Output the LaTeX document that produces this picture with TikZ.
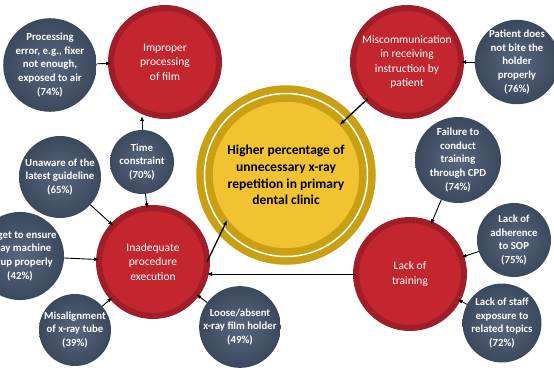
\documentclass[tikz,border=0pt]{standalone}
\usepackage{fontspec}
\setmainfont{Carlito}
\usepackage{xcolor}
\usetikzlibrary{arrows.meta}
\definecolor{causefill}{HTML}{C3262F}
\definecolor{causering}{HTML}{A11E28}
\definecolor{factorin}{HTML}{56677E}
\definecolor{factorout}{HTML}{3B495D}
\definecolor{effectfill}{HTML}{F1C232}
\definecolor{effectring}{HTML}{C9A012}
\tikzset{
  cause/.style={circle, draw=causering, fill=causefill, line width=6pt, minimum size=108pt, inner sep=0pt, outer sep=0pt, align=center, text=white, font=\fontsize{11.5}{14.5}\selectfont},
  factor/.style={circle, inner color=factorin, outer color=factorout, inner sep=0pt, outer sep=0pt, align=center, text=white, font=\fontsize{10.8}{13.6}\selectfont\bfseries},
  effect/.style={circle, draw=effectring, double=white, double distance=1.5pt, line width=7.5pt, fill=effectfill, minimum size=163pt, inner sep=0pt, outer sep=0pt, align=center, font=\fontsize{13.5}{16.8}\selectfont\bfseries},
  line/.style={-{Latex[length=5pt,width=4pt]}, line width=0.9pt},
  toeffect/.style={line, line width=1.3pt, shorten >=-8pt}
}

\begin{document}
\begin{tikzpicture}[x=1pt, y=-1pt]
    \useasboundingbox (0,0) rectangle (554,367);
    \clip (0,0) rectangle (554,367);
    % main effect
    \node[effect] (effect) at (286,175) {Higher percentage of\\unnecessary x-ray\\repetition in primary\\dental clinic};
    % causes
    \node[cause] (film) at (165,62) {Improper\\processing\\of film};
    \node[cause] (misc) at (407,62) {Miscommunication\\in receiving\\instruction by\\patient};
    \node[cause] (exec) at (153,262) {Inadequate\\procedure\\execution};
    \node[cause] (train) at (410,274) {Lack of\\training};
    % contributing factors
    \node[factor, minimum size=80pt] (fixer) at (50,65) {Processing\\error, e.g., fixer\\not enough,\\exposed to air\\(74\%)};
    \node[factor, minimum size=64pt] (time) at (142,162) {Time\\constraint\\(70\%)};
    \node[factor, minimum size=84pt] (bite) at (517,62) {Patient does\\not bite the\\holder\\properly\\(76\%)};
    \node[factor, minimum size=86pt] (cpd) at (458,160) {Failure to\\conduct\\training\\through CPD\\(74\%)};
    \node[factor, minimum size=74pt] (sop) at (514,240) {Lack of\\adherence\\to SOP\\(75\%)};
    \node[factor, minimum size=78pt] (topics) at (502,323) {Lack of staff\\exposure to\\related topics\\(72\%)};
    \node[factor, minimum size=82pt] (guide) at (60,177) {Unaware of the\\latest guideline\\(65\%)};
    \node[factor, minimum size=84pt] (setup) at (20,256) {Forget to ensure\\x-ray machine\\setup properly\\(42\%)};
    \node[factor, minimum size=72pt] (tube) at (75,330) {Misalignment\\of x-ray tube\\(39\%)};
    \node[factor, minimum size=80pt] (holder) at (240,327) {Loose/absent\\x-ray film holder\\(49\%)};
    % connectors
    \draw[line] (fixer) -- (film);
    \draw[line] (time.north) -- (time.north |- film.south);
    \draw[line] (bite) -- (misc);
    \draw[toeffect] (misc) -- (effect);
    \draw[line] (guide) -- (exec);
    \draw[line] (time) -- (exec);
    \draw[line] (setup) -- (exec);
    \draw[line] (tube) -- (exec);
    \draw[line] (holder) -- (exec);
    \draw[toeffect] (exec.east) -- (effect.220);
    \draw[line] (train.west) -- (train.west -| exec.east);
    \draw[line] (cpd) -- (train);
    \draw[line] (sop) -- (train);
    \draw[line] (topics) -- (train);
\end{tikzpicture}
\end{document}
